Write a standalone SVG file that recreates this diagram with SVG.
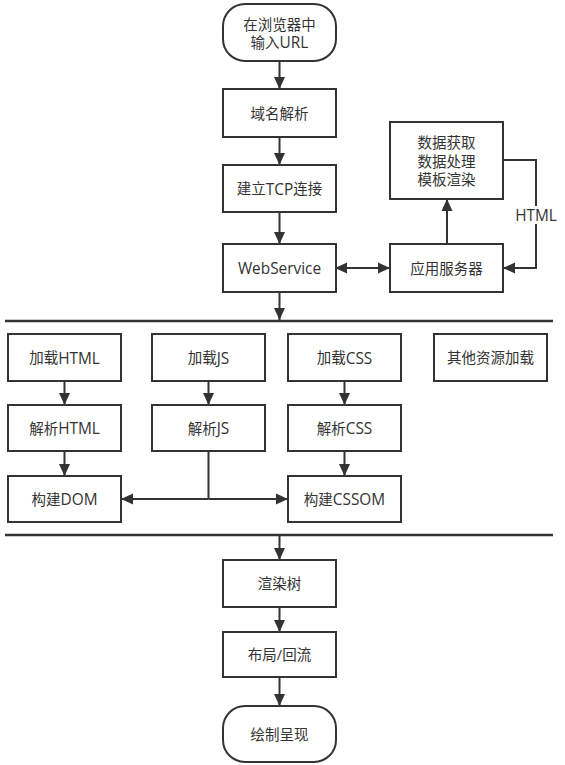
<svg xmlns="http://www.w3.org/2000/svg" width="565" height="765" viewBox="0 0 565 765">
<defs>
<style>
.box{fill:#fff;stroke:#333;stroke-width:2}
.t{font-family:"Open Sans","Noto Sans CJK SC",sans-serif;font-size:14.5px;fill:#333;text-anchor:middle;dominant-baseline:central}
.l{font-size:15.4px}
.c{fill:none;stroke:#333;stroke-width:2}
.sep{stroke:#333;stroke-width:2.5}
</style>
<marker id="arr" viewBox="0 0 12 12" markerWidth="12" markerHeight="12" refX="12" refY="6" orient="auto-start-reverse" markerUnits="userSpaceOnUse">
<path d="M0,0.5 L12,6 L0,11.5 Z" fill="#333"/>
</marker>
</defs>
<rect width="565" height="765" fill="#fff"/>
<line class="sep" x1="5" y1="321" x2="553" y2="321"/>
<line class="sep" x1="5" y1="535" x2="553" y2="535"/>
<g id="connectors">
<line class="c" x1="279.5" y1="61" x2="279.5" y2="89" marker-end="url(#arr)"/>
<line class="c" x1="279.5" y1="137" x2="279.5" y2="165" marker-end="url(#arr)"/>
<line class="c" x1="279.5" y1="212" x2="279.5" y2="244" marker-end="url(#arr)"/>
<line class="c" x1="279.5" y1="292" x2="279.5" y2="320" marker-end="url(#arr)"/>
<line class="c" x1="335" y1="268" x2="390" y2="268" marker-start="url(#arr)" marker-end="url(#arr)"/>
<line class="c" x1="447" y1="244" x2="447" y2="199" marker-end="url(#arr)"/>
<path class="c" d="M503,160 H536 V268 H503" marker-end="url(#arr)"/>
<rect x="514" y="206" width="46" height="18" fill="#fff"/>
<text class="t l" x="536" y="215">HTML</text>
<line class="c" x1="64.5" y1="381" x2="64.5" y2="405" marker-end="url(#arr)"/>
<line class="c" x1="208.5" y1="381" x2="208.5" y2="405" marker-end="url(#arr)"/>
<line class="c" x1="344.5" y1="381" x2="344.5" y2="405" marker-end="url(#arr)"/>
<line class="c" x1="64.5" y1="451" x2="64.5" y2="476" marker-end="url(#arr)"/>
<line class="c" x1="344.5" y1="451" x2="344.5" y2="476" marker-end="url(#arr)"/>
<line class="c" x1="208.5" y1="451" x2="208.5" y2="499"/>
<line class="c" x1="208.5" y1="499" x2="121" y2="499" marker-end="url(#arr)"/>
<line class="c" x1="208.5" y1="499" x2="288" y2="499" marker-end="url(#arr)"/>
<line class="c" x1="279.5" y1="536" x2="279.5" y2="560" marker-end="url(#arr)"/>
<line class="c" x1="279.5" y1="607" x2="279.5" y2="632" marker-end="url(#arr)"/>
<line class="c" x1="279.5" y1="677" x2="279.5" y2="706" marker-end="url(#arr)"/>
</g>
<g id="start"><rect class="box" x="223" y="4" width="113" height="57" rx="22"/><text class="t" x="279.5" y="24">在浏览器中</text><text class="t" x="279.5" y="42">输入<tspan class="l">URL</tspan></text></g>
<g id="dns"><rect class="box" x="223" y="89" width="113" height="48"/><text class="t" x="279.5" y="113">域名解析</text></g>
<g id="tcp"><rect class="box" x="223" y="165" width="113" height="47"/><text class="t" x="279.5" y="188.5">建立<tspan class="l">TCP</tspan>连接</text></g>
<g id="webservice"><rect class="box" x="223" y="244" width="113" height="48"/><text class="t l" x="279.5" y="268">WebService</text></g>
<g id="appserver"><rect class="box" x="390" y="244" width="113" height="48"/><text class="t" x="446.5" y="268">应用服务器</text></g>
<g id="data"><rect class="box" x="390" y="122" width="113" height="77"/><text class="t" x="446.5" y="142">数据获取</text><text class="t" x="446.5" y="161">数据处理</text><text class="t" x="446.5" y="179">模板渲染</text></g>
<g id="loadhtml"><rect class="box" x="8" y="334" width="113" height="47"/><text class="t" x="64.5" y="357.5">加载<tspan class="l">HTML</tspan></text></g>
<g id="loadjs"><rect class="box" x="152" y="334" width="113" height="47"/><text class="t" x="208.5" y="357.5">加载<tspan class="l">JS</tspan></text></g>
<g id="loadcss"><rect class="box" x="288" y="334" width="113" height="47"/><text class="t" x="344.5" y="357.5">加载<tspan class="l">CSS</tspan></text></g>
<g id="loadother"><rect class="box" x="434" y="334" width="113" height="47"/><text class="t" x="490.5" y="357.5">其他资源加载</text></g>
<g id="parsehtml"><rect class="box" x="8" y="405" width="113" height="46"/><text class="t" x="64.5" y="428">解析<tspan class="l">HTML</tspan></text></g>
<g id="parsejs"><rect class="box" x="152" y="405" width="113" height="46"/><text class="t" x="208.5" y="428">解析<tspan class="l">JS</tspan></text></g>
<g id="parsecss"><rect class="box" x="288" y="405" width="113" height="46"/><text class="t" x="344.5" y="428">解析<tspan class="l">CSS</tspan></text></g>
<g id="dom"><rect class="box" x="8" y="476" width="113" height="46"/><text class="t" x="64.5" y="499">构建<tspan class="l">DOM</tspan></text></g>
<g id="cssom"><rect class="box" x="288" y="476" width="113" height="46"/><text class="t" x="344.5" y="499">构建<tspan class="l">CSSOM</tspan></text></g>
<g id="rendertree"><rect class="box" x="223" y="560" width="113" height="47"/><text class="t" x="279.5" y="583.5">渲染树</text></g>
<g id="layout"><rect class="box" x="223" y="632" width="113" height="45"/><text class="t" x="279.5" y="654.5">布局/回流</text></g>
<g id="paint"><rect class="box" x="223" y="706" width="113" height="56" rx="22"/><text class="t" x="279.5" y="734">绘制呈现</text></g>
</svg>
